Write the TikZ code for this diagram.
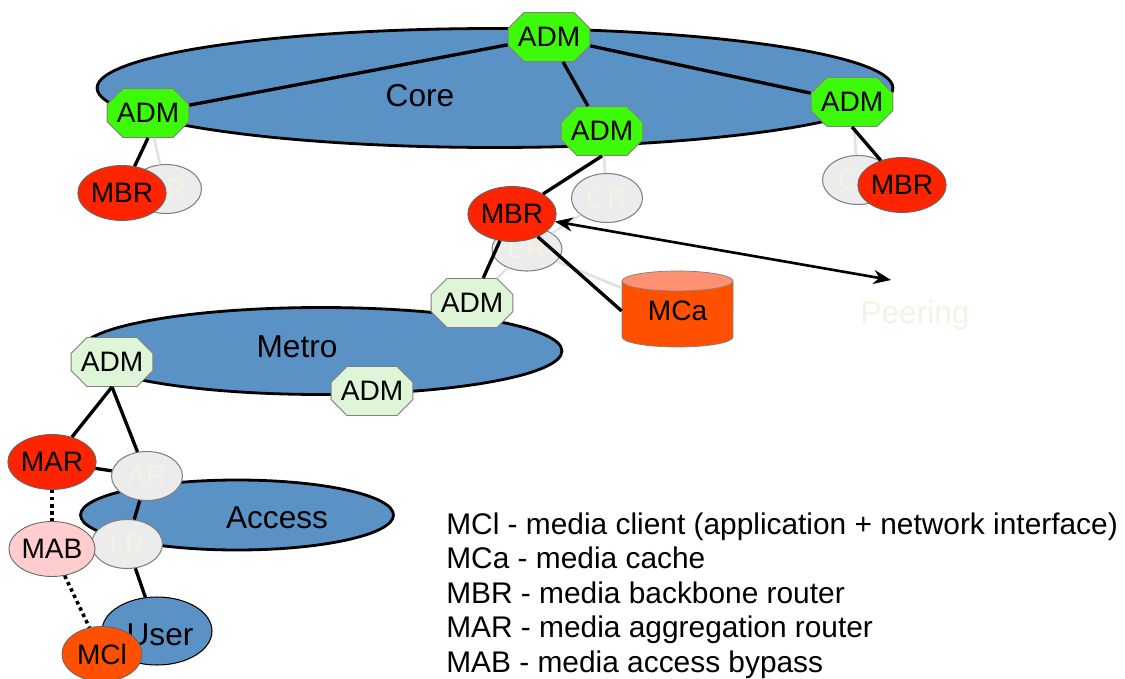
\documentclass[tikz,border=0pt]{standalone}
\usepackage{fontspec}
\setmainfont{Liberation Sans}
\usetikzlibrary{shapes.geometric,shapes.misc,arrows.meta}
\definecolor{netblue}{RGB}{91,146,198}
\definecolor{admgreen}{RGB}{60,250,10}
\definecolor{admpale}{RGB}{222,245,215}
\definecolor{mbrred}{RGB}{255,36,0}
\definecolor{mcaorange}{RGB}{255,80,0}
\definecolor{mcatop}{RGB}{255,145,115}
\definecolor{mabpink}{RGB}{255,205,205}
\definecolor{ghostgray}{RGB}{236,236,236}
\definecolor{ghosttext}{RGB}{244,242,226}
\definecolor{faintline}{RGB}{226,226,226}
\begin{document}
\begin{tikzpicture}[x=0.02cm,y=-0.02cm,
    every node/.style={font=\fontsize{16}{18}\selectfont},
    net/.style={ellipse,draw,line width=1.6pt,fill=netblue,inner sep=0pt},
    netlabel/.style={font=\fontsize{18}{20}\selectfont},
    adm/.style={chamfered rectangle,chamfered rectangle xsep=0.22cm,draw=black!50,line width=0.5pt,fill=admgreen,minimum width=1.6cm,minimum height=0.98cm,inner sep=0pt},
    admmetro/.style={adm,fill=admpale},
    box/.style={ellipse,draw=black!60,line width=0.5pt,minimum width=1.6cm,minimum height=1.1cm,inner sep=0pt},
    ghost/.style={ellipse,draw=black!50,line width=0.6pt,fill=ghostgray,text=ghosttext,minimum width=1.42cm,minimum height=0.98cm,inner sep=0pt},
    link/.style={line width=1.9pt},
    faint/.style={line width=1.5pt,draw=faintline},
    bypass/.style={line width=2pt,dotted}]
    \useasboundingbox (0,0) rectangle (1125,679);
    % core ring
    \node[net,minimum width=15.92cm,minimum height=2.38cm] (core) at (495,88) {};
    \node[netlabel] (corelbl) at (420,96) {Core};
    \node[ghost] (crl) at (166,189) {CR};
    \node[ghost] (crm) at (607,198) {CR};
    \node[ghost] (crr) at (858,180) {CR};
    \node[ghost,minimum width=1.4cm,minimum height=0.88cm] (er) at (527,249) {ER};
    \node[adm] (admtop) at (549,37) {ADM};
    \node[adm] (admleft) at (148,113) {ADM};
    \node[adm] (admmid) at (602,131) {ADM};
    \node[adm] (admright) at (852,102) {ADM};
    \draw[link] (admtop) -- (admleft);
    \draw[link] (admtop) -- (admmid);
    \draw[link] (admtop) -- (admright);
    \draw[faint] (admleft) -- (crl);
    \draw[faint] (admmid) -- (crm);
    \draw[faint] (admright) -- (crr);
    \draw[faint] (crm) -- (er);
    \node[box,fill=mbrred] (mbrl) at (122,193) {MBR};
    \node[box,fill=mbrred] (mbrm) at (512,214) {MBR};
    \node[box,fill=mbrred] (mbrr) at (902,185) {MBR};
    \draw[link] (admleft.south) -- (mbrl);
    \draw[link] (admmid.south) -- (mbrm);
    \draw[link] (admright.south) -- (mbrr);
    % cache and peering
    \draw[fill=mcaorange,draw=black!50] (622,281) -- (622,337) arc[start angle=180,end angle=360,x radius=1.11cm,y radius=0.2cm] -- (733,281) -- cycle;
    \draw[fill=mcatop,draw=black!50] (677.5,281) ellipse[x radius=1.11cm,y radius=0.2cm];
    \node[minimum width=2.22cm,minimum height=1.32cm,inner sep=0pt] (mca) at (677.5,311) {MCa};
    \coordinate (peer) at (891,280);
    \draw[line width=1.5pt,{Stealth[length=10pt,width=8pt]}-{Stealth[length=10pt,width=8pt]}] (mbrm) -- (peer);
    \node[netlabel,text=ghosttext] (peering) at (915,315) {Peering};
    % metro ring
    \node[net,minimum width=9.64cm,minimum height=1.74cm] (metro) at (321,351) {};
    \node[netlabel] (metrolbl) at (297,347) {Metro};
    \node[admmetro] (admmtop) at (472,303) {ADM};
    \node[admmetro] (admmleft) at (112,362) {ADM};
    \node[admmetro] (admmright) at (372,391) {ADM};
    \draw[faint] (er) -- (admmtop);
    \draw[faint] (er) -- (mca);
    \draw[link] (mbrm) -- (admmtop);
    \draw[link] (mbrm) -- (mca.west);
    % access and user
    \node[net,minimum width=6.26cm,minimum height=1.4cm] (access) at (237,515) {};
    \node[netlabel] (accesslbl) at (277,518) {Access};
    \node[ghost] (ar) at (147,476) {AR};
    \node[ghost] (lr) at (127,544) {LR};
    \node[box,fill=mbrred] (mar) at (52,462) {MAR};
    \node[box,fill=mabpink] (mab) at (52,549) {MAB};
    \node[net,line width=0.6pt,minimum width=2.2cm,minimum height=1.36cm] (user) at (157,631) {};
    \node[netlabel] (userlbl) at (160,635) {User};
    \node[box,fill=mcaorange] (mcl) at (102,654) {MCl};
    \draw[link] (admmleft.south) -- (mar);
    \draw[link] (admmleft.south) -- (ar);
    \draw[link] (mar) -- (ar);
    \draw[link] (ar) -- (lr);
    \draw[link] (lr) -- (user);
    \draw[bypass] (mar) -- (mab);
    \draw[bypass] (mab) -- (mcl);
    % legend
    \node[anchor=north west,align=left,inner sep=0pt,font=\fontsize{17}{19.7}\selectfont] (legend) at (446,512) {MCl - media client (application + network interface)\\MCa - media cache\\MBR - media backbone router\\MAR - media aggregation router\\MAB - media access bypass};
\end{tikzpicture}
\end{document}
